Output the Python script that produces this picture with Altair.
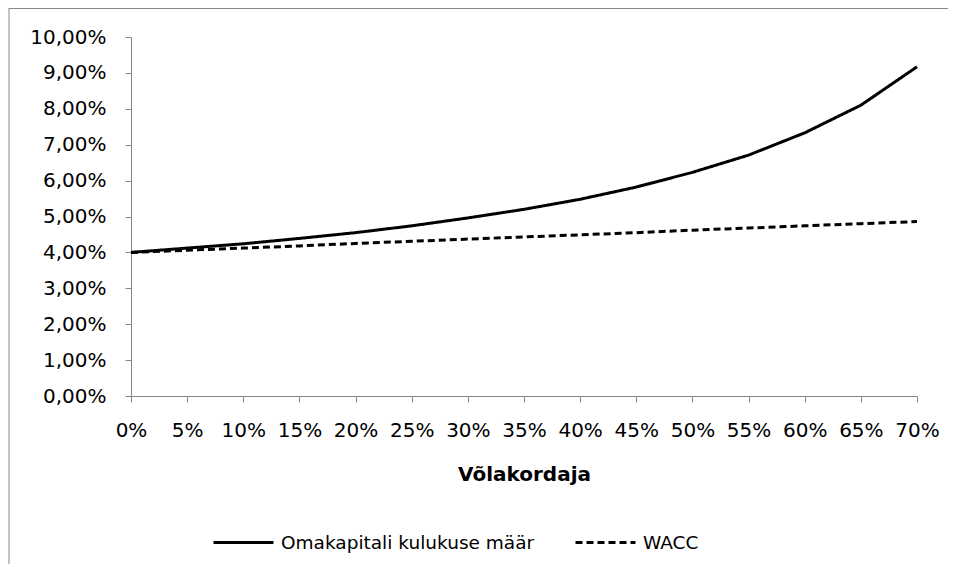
import altair as alt
import pandas as pd

# Data
debt_ratio = ["0%", "5%", "10%", "15%", "20%", "25%", "30%", "35%",
              "40%", "45%", "50%", "55%", "60%", "65%", "70%"]
cost_of_equity = [4.00, 4.12, 4.24, 4.39, 4.55, 4.74, 4.96, 5.20,
                  5.48, 5.82, 6.23, 6.71, 7.33, 8.10, 9.17]
wacc = [4.00, 4.06, 4.12, 4.18, 4.25, 4.31, 4.37, 4.43,
        4.49, 4.55, 4.62, 4.68, 4.74, 4.80, 4.86]
series_names = ["Omakapitali kulukuse määr", "WACC"]
y_ticks = [0, 0.01, 0.02, 0.03, 0.04, 0.05, 0.06, 0.07, 0.08, 0.09, 0.10]

rows = []
for i, d in enumerate(debt_ratio):
    rows.append({"Võlakordaja": d, "value": cost_of_equity[i] / 100, "series": series_names[0]})
    rows.append({"Võlakordaja": d, "value": wacc[i] / 100, "series": series_names[1]})
df = pd.DataFrame(rows)

W, H = 786, 359
FONT = "DejaVu Sans"
GRAY = "#868686"

lines = alt.Chart(df).mark_line(color="black", strokeWidth=3).encode(
    x=alt.X("Võlakordaja:O", sort=debt_ratio,
            scale=alt.Scale(type="point", padding=0),
            axis=alt.Axis(title="Võlakordaja", labelAngle=0, labelFont=FONT,
                          labelFontSize=20, labelColor="black", labelPadding=18,
                          labelOverlap=False, tickSize=6, tickColor=GRAY,
                          domainColor=GRAY, grid=False, titleFont=FONT,
                          titleFontSize=20, titleFontWeight="bold",
                          titleColor="black", titlePadding=24)),
    y=alt.Y("value:Q", scale=alt.Scale(domain=[0, 0.10], nice=False),
            axis=alt.Axis(title=None, values=y_ticks, grid=False,
                          labelExpr="replace(format(datum.value, '.2%'), '.', ',')",
                          labelFont=FONT, labelFontSize=20, labelColor="black",
                          labelPadding=19, tickSize=6, tickColor=GRAY,
                          domainColor=GRAY)),
    strokeDash=alt.StrokeDash("series:N",
                              scale=alt.Scale(domain=series_names, range=[[1, 0], [7, 4]]),
                              legend=alt.Legend(title=None, orient="none", direction="horizontal",
                                                legendX=81, legendY=474,
                                                symbolType="stroke", symbolSize=3600,
                                                symbolStrokeWidth=3, symbolStrokeColor="black",
                                                labelFont=FONT, labelFontSize=18.5,
                                                labelColor="black", labelOffset=6,
                                                labelLimit=600, columnPadding=34)),
)

one = pd.DataFrame({"k": [0]})
top_border = alt.Chart(one).mark_rule(color=GRAY, strokeWidth=1).encode(
    x=alt.value(-122), x2=alt.value(W + 60), y=alt.value(-28.5))
left_border = alt.Chart(one).mark_rule(color=GRAY, strokeWidth=1).encode(
    x=alt.value(-122), y=alt.value(-29), y2=alt.value(H + 220))

chart = alt.layer(top_border, left_border, lines).properties(
    width=W, height=H,
    autosize=alt.AutoSizeParams(type="none"),
    padding={"left": 123, "top": 29, "right": 31, "bottom": 168},
).configure_view(strokeWidth=0)

chart.save("out.html", embed_options={"renderer": "svg", "actions": False})
